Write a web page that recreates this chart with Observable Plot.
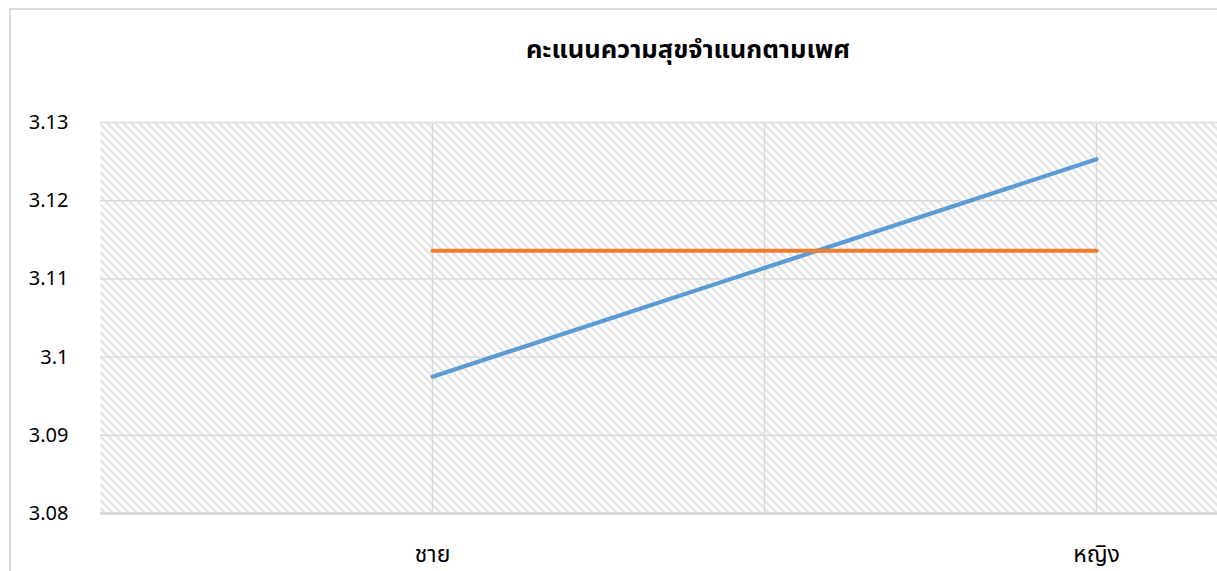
<!DOCTYPE html>
<html><head><meta charset="utf-8">
<script src="https://cdn.jsdelivr.net/npm/d3@7"></script>
<script src="https://cdn.jsdelivr.net/npm/@observablehq/plot@0.6"></script>
<style>
html,body{margin:0;padding:0;background:#fff;overflow:hidden;width:1217px;height:571px}
#wrap{position:relative;width:1217px;height:571px;overflow:hidden}
#border{position:absolute;left:9px;top:8px;width:1400px;height:800px;border:2px solid #d9d9d9;box-sizing:border-box}
#title{position:absolute;left:0;width:1376px;top:35px;text-align:center;font-weight:bold;font-size:25.5px;line-height:1.2;font-family:"Noto Sans Thai","Noto Sans","Tahoma",sans-serif;color:#000}
#chart{position:absolute;left:0;top:0}
</style></head>
<body><div id="wrap"><div id="border"></div><div id="chart"></div><div id="title">คะแนนความสุขจำแนกตามเพศ</div></div>
<script>
const categories = ["ชาย", "หญิง"];
const seriesNames = ["คะแนน", "ค่าเฉลี่ย"];
const happinessScore = [3.0975, 3.1253];
const averageScore = [3.1136, 3.1136];
const yTicks = [3.08, 3.09, 3.10, 3.11, 3.12, 3.13];
const xGrid = [0, 0.5, 1];
const seriesColors = ["#5B9BD5", "#ED7D31"];

const rows = [];
categories.forEach((c, i) => {
  rows.push({i, v: happinessScore[i], s: seriesNames[0]});
});
categories.forEach((c, i) => {
  rows.push({i, v: averageScore[i], s: seriesNames[1]});
});

const chart = Plot.plot({
  width: 1217,
  height: 571,
  marginTop: 122,
  marginBottom: 58,
  marginLeft: 100,
  marginRight: 0,
  style: {fontFamily: '"Noto Sans Thai","Noto Sans",Tahoma,sans-serif', color: "#000", background: "transparent", overflow: "hidden"},
  x: {type: "linear", domain: [-0.5, 1.1822]},
  y: {domain: [3.08, 3.13]},
  color: {domain: seriesNames, range: seriesColors},
  marks: [
    Plot.frame({fill: "url(#hatch)", stroke: null}),
    Plot.ruleY(yTicks, {stroke: "#dadada", strokeWidth: 1.4}),
    Plot.ruleX(xGrid, {stroke: "#dadada", strokeWidth: 1.4}),
    Plot.ruleY([3.08], {stroke: "#d6d6d6", strokeWidth: 2.4}),
    Plot.line(rows, {x: "i", y: "v", z: "s", stroke: "s", strokeWidth: 4.2, strokeLinecap: "round"}),
    Plot.axisY(yTicks, {tickSize: 0, tickPadding: 32, fontSize: 20, tickFormat: d => String(+d.toFixed(2)), label: null, fill: "#000"}),
    Plot.axisX([0, 1], {tickSize: 0, tickPadding: 32, fontSize: 23, tickFormat: i => categories[i], label: null, fill: "#000"})
  ]
});
const svg = d3.select(chart);
const defs = svg.insert("defs", ":first-child");
const pat = defs.append("pattern").attr("id", "hatch").attr("patternUnits", "userSpaceOnUse").attr("width", 8).attr("height", 8);
pat.append("rect").attr("width", 8).attr("height", 8).attr("fill", "#fff");
pat.append("path").attr("d", "M-1,-1 L9,9 M-3,5 L3,11 M5,-3 L11,3").attr("stroke", "#e2e2e2").attr("stroke-width", 2.3);
document.getElementById("chart").appendChild(chart);
</script>
</body></html>
